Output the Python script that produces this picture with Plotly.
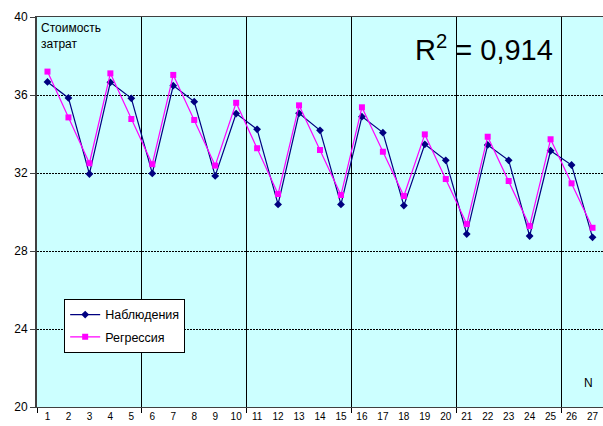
import plotly.graph_objects as go

n_labels = list(range(1, 28))
observed = [36.67, 35.85, 31.95, 36.65, 35.83, 31.98, 36.48, 35.66, 31.85, 35.05,
            34.24, 30.39, 35.06, 34.19, 30.39, 34.89, 34.07, 30.33, 33.47, 32.65,
            28.87, 33.44, 32.65, 28.77, 33.14, 32.41, 28.70]
regression = [37.20, 34.85, 32.50, 37.11, 34.77, 32.45, 37.03, 34.72, 32.38, 35.60,
              33.27, 30.92, 35.47, 33.18, 30.87, 35.37, 33.09, 30.82, 33.98, 31.69,
              29.38, 33.86, 31.59, 29.28, 33.73, 31.47, 29.19]
y_ticks = [20, 24, 28, 32, 36, 40]

FONT = "Liberation Sans, Arial, sans-serif"

fig = go.Figure()
fig.add_trace(go.Scatter(
    x=n_labels, y=observed, mode="lines+markers", name="Наблюдения",
    legendgroup="obs",
    line=dict(color="#000080", width=1.2),
    marker=dict(symbol="diamond", size=6, color="#000080"),
))
fig.add_trace(go.Scatter(
    x=n_labels, y=regression, mode="lines+markers", name="Регрессия",
    legendgroup="reg",
    line=dict(color="#FF00FF", width=1.2),
    marker=dict(symbol="square", size=6, color="#FF00FF"),
))

fig.update_layout(
    width=603, height=426,
    margin=dict(l=37, r=0, t=17, b=19),
    paper_bgcolor="white",
    plot_bgcolor="#CCFFFF",
    font=dict(family=FONT, size=10, color="black"),
    showlegend=True,
    legend=dict(
        x=0.048, y=0.277, xanchor="left", yanchor="top",
        bgcolor="white", bordercolor="black", borderwidth=1,
        font=dict(size=12.5, family=FONT),
        tracegroupgap=3, itemwidth=30,
    ),
    xaxis=dict(
        range=[0.5, 27.5],
        tickmode="array", tickvals=n_labels, ticktext=[str(v) for v in n_labels],
        ticks="", showgrid=False, zeroline=False,
        showline=True, linecolor="#404040", linewidth=1, mirror=True,
        tickfont=dict(size=10),
        minor=dict(tick0=0.5, dtick=5, showgrid=True, gridcolor="black",
                   gridwidth=1, ticks="outside", ticklen=5, tickcolor="black"),
    ),
    yaxis=dict(
        range=[20, 40],
        tickmode="array", tickvals=y_ticks, ticktext=[str(v) for v in y_ticks],
        ticks="outside", ticklen=5, tickcolor="#404040",
        showgrid=True, gridcolor="black", griddash="2px,1px", gridwidth=1,
        zeroline=False, showline=True, linecolor="#404040", linewidth=2,
        tickfont=dict(size=12),
    ),
    annotations=[
        dict(text="Стоимость<br>затрат", xref="paper", yref="paper",
             x=0.004, y=0.995, xanchor="left", yanchor="top", showarrow=False,
             align="left", font=dict(size=12, family=FONT)),
        dict(text="R<sup>2</sup> = 0,914", xref="paper", yref="paper",
             x=0.665, y=0.972, xanchor="left", yanchor="top", showarrow=False,
             font=dict(size=29, family=FONT)),
        dict(text="N", xref="paper", yref="paper",
             x=0.975, y=0.062, xanchor="center", yanchor="middle", showarrow=False,
             font=dict(size=12, family=FONT)),
    ],
)

fig.write_html(
    "out.html",
    config={"displayModeBar": False},
    post_script="document.body.style.margin='0';document.body.style.overflow='hidden';",
)
